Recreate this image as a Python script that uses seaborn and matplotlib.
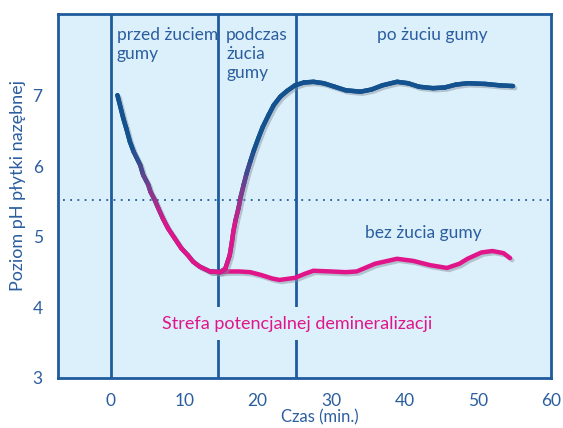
import numpy as np
import pandas as pd
import matplotlib
matplotlib.use("Agg")
import matplotlib.pyplot as plt
import matplotlib.patheffects as pe
from matplotlib.collections import LineCollection
from matplotlib.colors import LinearSegmentedColormap, Normalize
import seaborn as sns

# -----------------------------
# Data
# -----------------------------

# with chewing gum (starts blue, dips to the pink zone, rises back)
gum_time = [0.9, 1.7, 2.1, 2.6, 3.1, 4.0, 4.4, 5.1, 5.4, 6.0, 6.45, 7.1, 7.8, 8.7,
            9.6, 10.5, 11.2, 12.1, 13.5, 14.9, 15.6, 16.2, 16.5, 16.7, 17.0, 17.4,
            17.7, 18.1, 18.5, 19.0, 19.5, 20.1, 20.7, 21.5, 22.2, 23.1, 24.0, 25.1,
            26.3, 27.6, 29.0, 30.5, 32.0, 34.0, 35.5, 37.0, 39.0, 40.5, 42.0, 43.9,
            45.5, 47.0, 48.6, 51.0, 53.0, 54.8]
gum_ph = [7.01, 6.68, 6.54, 6.35, 6.21, 6.02, 5.88, 5.74, 5.64, 5.52, 5.41, 5.26, 5.12, 4.98,
          4.84, 4.74, 4.65, 4.58, 4.51, 4.50, 4.55, 4.74, 4.93, 5.08, 5.24, 5.41,
          5.57, 5.74, 5.90, 6.07, 6.23, 6.40, 6.56, 6.73, 6.87, 6.99, 7.07, 7.15,
          7.19, 7.20, 7.18, 7.13, 7.08, 7.06, 7.09, 7.15, 7.20, 7.18, 7.13, 7.11,
          7.12, 7.16, 7.18, 7.17, 7.15, 7.14]

# without chewing gum
nogum_time = [13.5, 14.9, 16.0, 17.5, 19.0, 20.5, 22.0, 23.0, 25.1, 26.5, 27.6, 30.0,
              32.0, 33.5, 36.0, 39.0, 41.2, 43.5, 45.8, 47.5, 48.6, 50.5, 52.0, 53.5, 54.4]
nogum_ph = [4.51, 4.50, 4.51, 4.51, 4.50, 4.46, 4.41, 4.39, 4.42, 4.48, 4.52, 4.51,
            4.50, 4.51, 4.62, 4.69, 4.66, 4.60, 4.56, 4.62, 4.69, 4.78, 4.80, 4.77, 4.70]

phase_bounds = [0, 14.6, 25.2]
critical_ph = 5.53
x_ticks = [0, 10, 20, 30, 40, 50, 60]
y_ticks = [3, 4, 5, 6, 7]

# -----------------------------
# Style
# -----------------------------

BG = "#dcf0fb"
AXIS = "#1f5b9d"
TXT = "#2b5e9f"
BLUE = "#13528f"
PINK = "#e0158a"

sns.set_style("white")
plt.rcParams["font.family"] = ["Lato", "DejaVu Sans"]

fig, ax = plt.subplots(figsize=(5.63, 4.28), dpi=100)
fig.subplots_adjust(left=0.103, right=0.979, top=0.967, bottom=0.117)
ax.set_facecolor(BG)

shadow = [pe.SimpleLineShadow(offset=(1.5, -1.5), shadow_color="#7f8c99", alpha=0.45),
          pe.Normal()]

# phase separators and the critical pH level
for xb in phase_bounds:
    ax.axvline(xb, color=AXIS, lw=2, zorder=1)
ax.axhline(critical_ph, xmin=0.01, xmax=0.995, color=AXIS, lw=1.3,
           linestyle=(0, (1, 3)), zorder=1)

# curve without gum
df_nogum = pd.DataFrame({"time": nogum_time, "ph": nogum_ph})
sns.lineplot(data=df_nogum, x="time", y="ph", color=PINK, lw=3.2, ax=ax,
             solid_capstyle="round", solid_joinstyle="round",
             path_effects=shadow, zorder=3)

# curve with gum: one line for the shadow, then coloured pink -> blue with pH
ax.plot(gum_time, gum_ph, color=BLUE, lw=3.2, solid_capstyle="round",
        solid_joinstyle="round", path_effects=shadow, zorder=4)
pts = np.column_stack([gum_time, gum_ph])
segs = np.stack([pts[:-1], pts[1:]], axis=1)
mid_ph = (pts[:-1, 1] + pts[1:, 1]) / 2
cmap = LinearSegmentedColormap.from_list("pb", [PINK, "#7a3d8f", BLUE])
lc = LineCollection(segs, cmap=cmap, norm=Normalize(5.15, 6.25), linewidths=3.2,
                    capstyle="round", joinstyle="round", zorder=5)
lc.set_array(mid_ph)
ax.add_collection(lc)

# -----------------------------
# Text
# -----------------------------

fs = 12.5
ax.text(0.8, 7.98, "przed żuciem\ngumy", color=TXT, fontsize=fs, ha="left", va="top",
        linespacing=1.25)
ax.text(15.7, 7.98, "podczas\nżucia\ngumy", color=TXT, fontsize=fs, ha="left", va="top",
        linespacing=1.25)
ax.text(36.3, 7.98, "po żuciu gumy", color=TXT, fontsize=fs, ha="left", va="top")
ax.text(34.6, 5.06, "bez żucia gumy", color=TXT, fontsize=fs, ha="left", va="center")
ax.text(7.0, 3.77, "Strefa potencjalnej demineralizacji", color=PINK, fontsize=13,
        ha="left", va="center", zorder=2,
        bbox=dict(facecolor=BG, edgecolor="none", pad=6))

# -----------------------------
# Axes
# -----------------------------

ax.set_xlim(-7.2, 60)
ax.set_ylim(3, 8.16)
ax.set_xticks(x_ticks)
ax.set_yticks(y_ticks)
for sp in ax.spines.values():
    sp.set_visible(True)
    sp.set_color(AXIS)
    sp.set_linewidth(2)
ax.tick_params(direction="out", length=7, width=2, color=AXIS, labelcolor=TXT,
               labelsize=12.5, pad=4)
ax.set_xlabel("Czas (min.)", color=TXT, fontsize=12)
ax.xaxis.set_label_coords(0.53, -0.085)
ax.set_ylabel("Poziom pH płytki nazębnej", color=TXT, fontsize=13)
ax.yaxis.set_label_coords(-0.064, 0.53)

fig.savefig("out.png", dpi=100)
